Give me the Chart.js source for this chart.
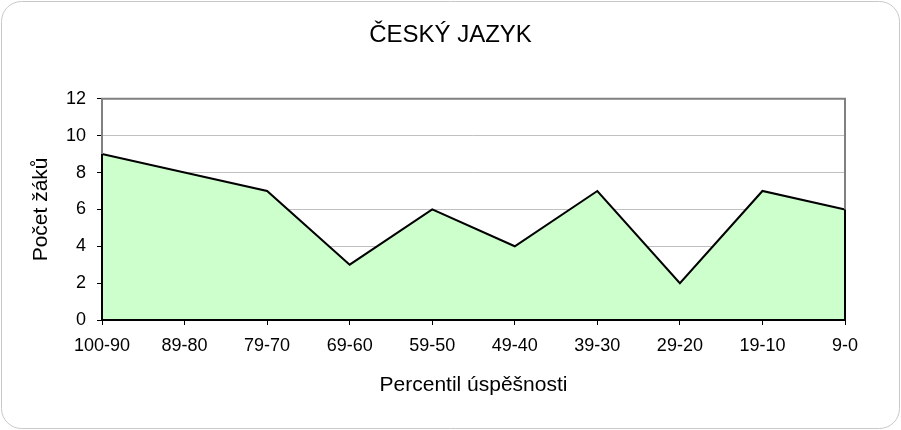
<!DOCTYPE html>
<html>
<head>
<meta charset="utf-8">
<script src="https://cdn.jsdelivr.net/npm/chart.js@4/dist/chart.umd.min.js"></script>
<style>
  html, body { margin: 0; padding: 0; background: #fff; }
  #wrap { width: 901px; height: 430px; }
</style>
</head>
<body>
<div id="wrap"><canvas id="cesky-jazyk" width="901" height="430"></canvas></div>
<script>
const categories = ['100-90', '89-80', '79-70', '69-60', '59-50', '49-40', '39-30', '29-20', '19-10', '9-0'];
const pocetZaku = [9, 8, 7, 3, 6, 4, 7, 2, 7, 6];
const yTicks = [0, 2, 4, 6, 8, 10, 12];

const FONT = "'Liberation Sans', Arial, sans-serif";

// rounded outer border of the chart
const chartBorder = {
  id: 'chartBorder',
  beforeDraw(chart) {
    const c = chart.ctx;
    const x = 1.5, y = 1.5, w = chart.width - 3, h = chart.height - 3, r = 20;
    c.save();
    c.fillStyle = '#fff';
    c.strokeStyle = '#C8C8C8';
    c.lineWidth = 1;
    c.beginPath();
    c.roundRect(x, y, w, h, r);
    c.fill();
    c.stroke();
    c.restore();
  }
};

// gray plot frame + black outline of the area polygon
const areaOutline = {
  id: 'areaOutline',
  afterDatasetsDraw(chart) {
    const c = chart.ctx;
    const a = chart.chartArea;
    const pts = chart.getDatasetMeta(0).data;
    const base = chart.scales.y.getPixelForValue(0);
    c.save();
    c.strokeStyle = '#808080';
    c.lineWidth = 2;
    c.beginPath();
    c.moveTo(a.left, pts[0].y);
    c.lineTo(a.left, a.top);
    c.lineTo(a.right, a.top);
    c.lineTo(a.right, pts[pts.length - 1].y);
    c.stroke();
    c.strokeStyle = '#000';
    c.lineWidth = 2;
    c.beginPath();
    c.moveTo(pts[0].x, pts[0].y);
    c.lineTo(pts[0].x, base);
    c.lineTo(pts[pts.length - 1].x, base);
    c.lineTo(pts[pts.length - 1].x, pts[pts.length - 1].y);
    c.stroke();
    c.restore();
  }
};

new Chart(document.getElementById('cesky-jazyk'), {
  type: 'line',
  data: {
    labels: categories,
    datasets: [{
      label: 'Počet žáků',
      data: pocetZaku,
      borderColor: '#000',
      borderWidth: 2,
      backgroundColor: '#CCFFCC',
      fill: 'origin',
      tension: 0,
      pointRadius: 0,
      pointHoverRadius: 0
    }]
  },
  plugins: [chartBorder, areaOutline],
  options: {
    responsive: false,
    animation: false,
    events: [],
    layout: { padding: 0 },
    plugins: {
      legend: { display: false },
      tooltip: { enabled: false },
      title: {
        display: true,
        text: 'ČESKÝ JAZYK',
        color: '#000',
        font: { family: FONT, size: 24, weight: 'normal' },
        padding: { top: 21, bottom: 49 }
      }
    },
    scales: {
      x: {
        offset: false,
        afterFit(scale) { scale.height = 110; },
        grid: {
          drawOnChartArea: false,
          tickLength: 5,
          tickColor: '#000',
          tickWidth: 1
        },
        border: { display: false },
        ticks: {
          color: '#000',
          padding: 10,
          maxRotation: 0,
          autoSkip: false,
          font: { family: FONT, size: 18 }
        },
        title: {
          display: true,
          text: 'Percentil úspěšnosti',
          color: '#000',
          font: { family: FONT, size: 21 },
          padding: { top: 0, bottom: 32 }
        }
      },
      y: {
        min: 0,
        max: 12,
        afterFit(scale) { scale.width = 102; },
        afterBuildTicks(scale) { scale.ticks = yTicks.map(v => ({ value: v })); },
        grid: {
          color: '#C0C0C0',
          lineWidth: 1,
          tickLength: 5,
          tickColor: '#000',
          tickWidth: 1
        },
        border: { display: false },
        ticks: {
          color: '#000',
          padding: 11,
          font: { family: FONT, size: 18 }
        },
        title: {
          display: true,
          text: 'Počet žáků',
          color: '#000',
          font: { family: FONT, size: 21 },
          padding: { top: 29, bottom: 0 }
        }
      },
      // empty right-hand space so the title stays centred on the whole chart
      yRight: {
        position: 'right',
        display: true,
        afterFit(scale) { scale.width = 56; },
        grid: { display: false },
        border: { display: false },
        ticks: { display: false }
      }
    }
  }
});
</script>
</body>
</html>
